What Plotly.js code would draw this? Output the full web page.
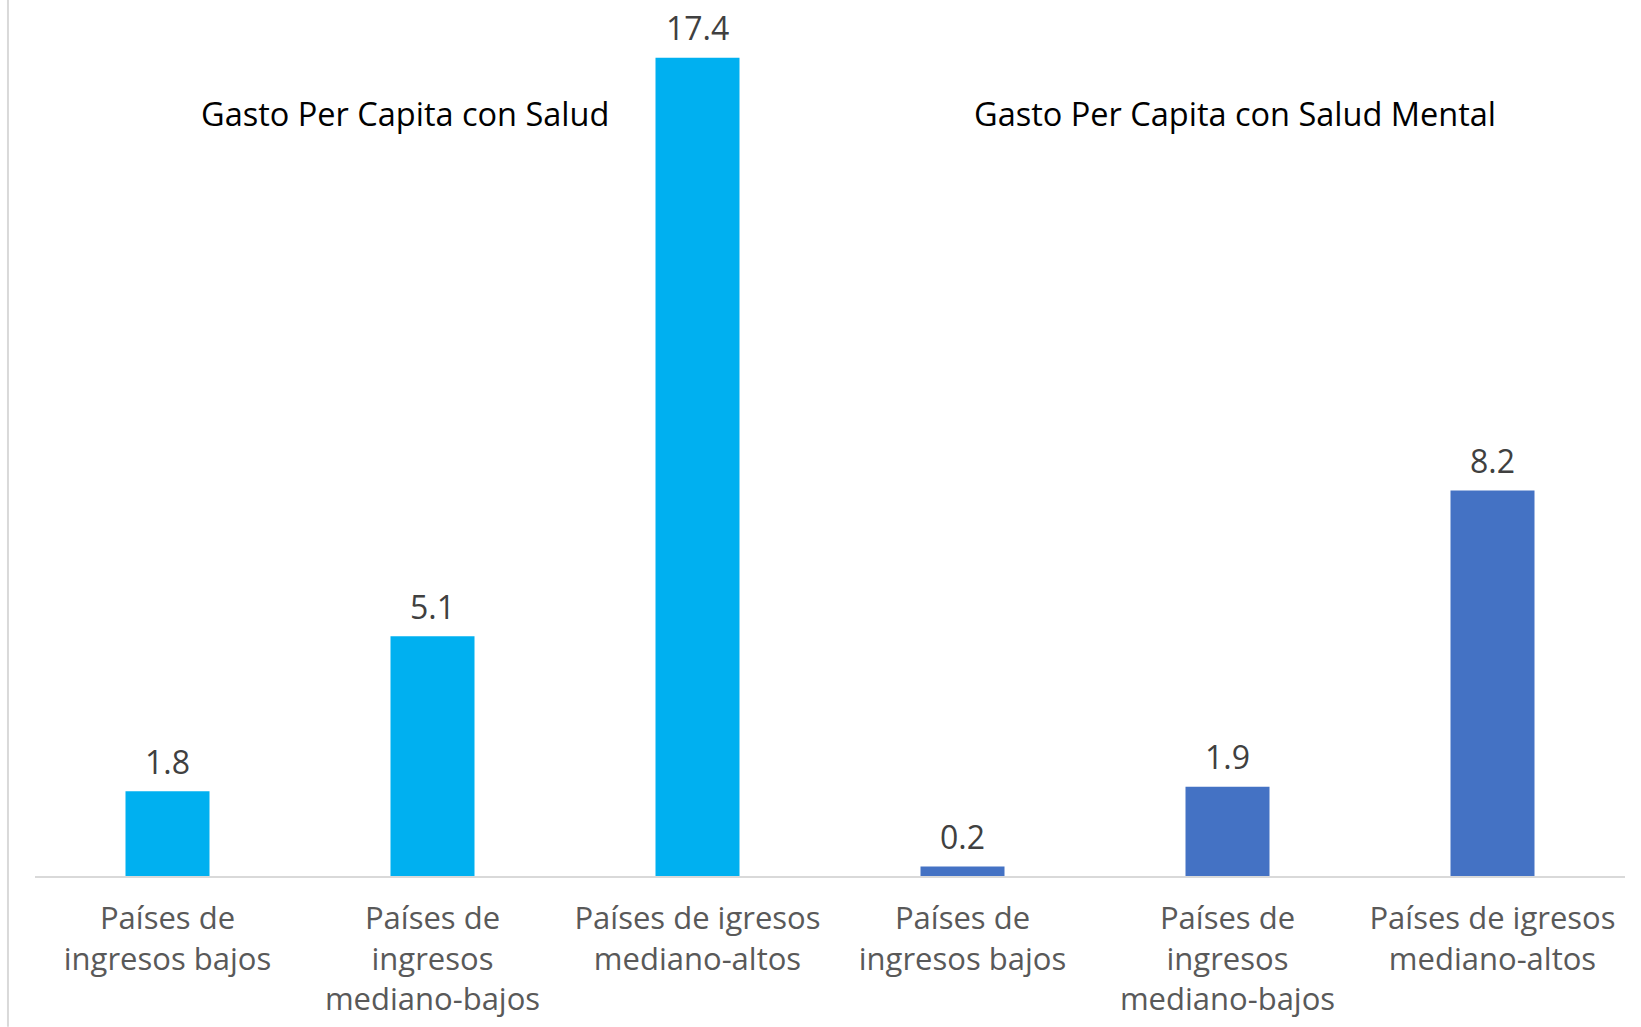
<!DOCTYPE html>
<html>
<head>
<meta charset="utf-8">
<script src="https://cdn.plot.ly/plotly-3.0.1.min.js"></script>
<style>html,body{margin:0;padding:0;background:#fff;}#chart{width:1641px;height:1027px;}</style>
</head>
<body>
<div id="chart"></div>
<script>
const groupTitles = ["Gasto Per Capita con Salud", "Gasto Per Capita con Salud Mental"];
const categories = [
  "Países de<br>ingresos bajos",
  "Países de<br>ingresos<br>mediano-bajos",
  "Países de igresos<br>mediano-altos"
];
const saludValues = [1.8, 5.1, 17.4];
const saludMentalValues = [0.2, 1.9, 8.2];
const colors = ["#00B0F0", "#4472C4"];

const FONT = "'Open Sans', sans-serif";
const n = categories.length;
const x1 = categories.map((c, i) => i);
const x2 = categories.map((c, i) => i + n);

const traces = [
  {type: "bar", x: x1, y: saludValues, marker: {color: colors[0]},
   cliponaxis: false, hoverinfo: "skip", showlegend: false},
  {type: "bar", x: x2, y: saludMentalValues, marker: {color: colors[1]},
   cliponaxis: false, hoverinfo: "skip", showlegend: false}
];

const valueLabels = x1.map((x, i) => ({x: x, y: saludValues[i]}))
  .concat(x2.map((x, i) => ({x: x, y: saludMentalValues[i]})))
  .map(p => ({
    xref: "x", yref: "y", x: p.x, y: p.y, text: p.y.toFixed(1),
    showarrow: false, yanchor: "middle", yshift: 30,
    font: {family: FONT, size: 32, color: "#404040"}
  }));

const layout = {
  width: 1641, height: 1027,
  margin: {l: 35, r: 16, t: 0, b: 151},
  paper_bgcolor: "#fff", plot_bgcolor: "#fff",
  bargap: 0.683,
  font: {family: FONT},
  xaxis: {
    range: [-0.5, 2 * n - 0.5],
    tickmode: "array",
    tickvals: x1.concat(x2),
    ticktext: categories.concat(categories),
    tickfont: {family: FONT, size: 31, color: "#595959"},
    ticklabelstandoff: 14,
    showgrid: false, zeroline: false,
    showline: true, linecolor: "#D9D9D9", linewidth: 2,
    ticks: "", fixedrange: true
  },
  yaxis: {
    range: [0, 18.63],
    visible: false, showgrid: false, zeroline: false, fixedrange: true
  },
  annotations: [
    {text: groupTitles[0], xref: "x", yref: "paper", x: 0.896, y: 0.898,
     showarrow: false, font: {family: FONT, size: 32.5, color: "#000"}},
    {text: groupTitles[1], xref: "x", yref: "paper", x: 4.027, y: 0.898,
     showarrow: false, font: {family: FONT, size: 32.5, color: "#000"}}
  ].concat(valueLabels),
  shapes: [
    {type: "line", xref: "paper", yref: "paper", x0: -0.017, x1: -0.017, y0: -0.172, y1: 1,
     line: {color: "#D9D9D9", width: 2}}
  ]
};

Plotly.newPlot("chart", traces, layout, {displayModeBar: false, staticPlot: true});
</script>
</body>
</html>
